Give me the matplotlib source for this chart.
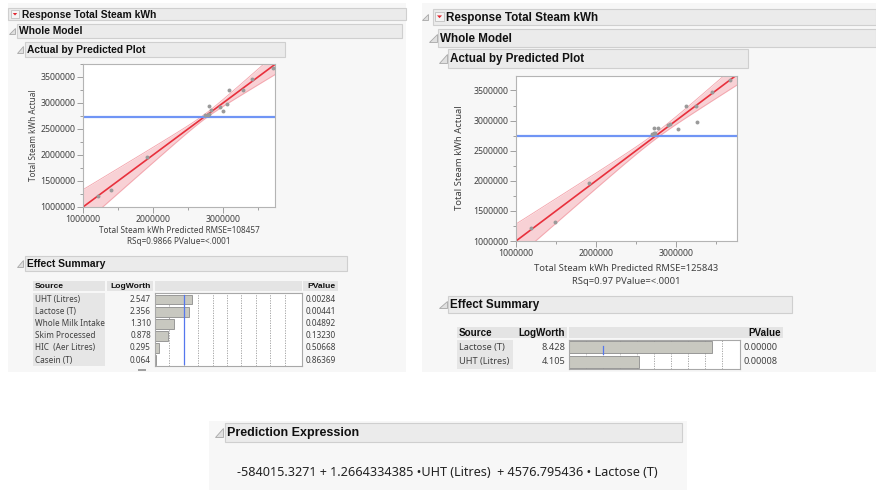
# JMP style report: actual by predicted plots, effect summaries, prediction expression
import numpy as np
import matplotlib.pyplot as plt
from matplotlib.patches import Rectangle, Polygon
from matplotlib.ticker import MultipleLocator, FuncFormatter

plt.rcParams['font.family'] = ['Noto Sans', 'DejaVu Sans']
BOLD = dict(family=['Liberation Sans', 'DejaVu Sans'], fontweight='bold', color='#111111')

W, H = 876, 490

# ---- data: full model (left) ----
left_pred = [1.22e6, 1.40e6, 1.92e6, 2.74e6, 2.78e6, 2.80e6, 2.80e6, 2.83e6, 2.96e6,
             3.00e6, 3.05e6, 3.08e6, 3.28e6, 3.42e6, 3.72e6]
left_actual = [1.21e6, 1.32e6, 1.97e6, 2.77e6, 2.77e6, 2.78e6, 2.94e6, 2.87e6, 2.92e6,
               2.85e6, 2.98e6, 3.25e6, 3.25e6, 3.47e6, 3.67e6]
left_sources = ['UHT (Litres)', 'Lactose (T)', 'Whole Milk Intake', 'Skim Processed',
                'HIC  (Aer Litres)', 'Casein (T)']
left_logworth = [2.547, 2.356, 1.310, 0.878, 0.295, 0.064]
left_pvalue = ['0.00284', '0.00441', '0.04892', '0.13230', '0.50668', '0.86369']
left_stats = ['Total Steam kWh Predicted RMSE=108457', 'RSq=0.9866 PValue=<.0001']

# ---- data: reduced model (right) ----
right_pred = [1.19e6, 1.49e6, 1.91e6, 2.70e6, 2.72e6, 2.74e6, 2.73e6, 2.78e6, 2.90e6,
              2.93e6, 3.03e6, 3.12e6, 3.25e6, 3.26e6, 3.45e6, 3.68e6]
right_actual = [1.21e6, 1.32e6, 1.97e6, 2.77e6, 2.79e6, 2.80e6, 2.87e6, 2.87e6, 2.92e6,
                2.95e6, 2.86e6, 3.24e6, 3.25e6, 2.98e6, 3.47e6, 3.67e6]
right_sources = ['Lactose (T)', 'UHT (Litres)']
right_logworth = [8.428, 4.105]
right_pvalue = ['0.00000', '0.00008']
right_stats = ['Total Steam kWh Predicted RMSE=125843', 'RSq=0.97 PValue=<.0001']

mean_actual = 2.74e6
# confidence band half widths (at the mean, and slope away from it)
left_band = (0.045e6, 0.19)
right_band = (0.05e6, 0.16)

expression = '-584015.3271 + 1.2664334385 \u2022UHT (Litres)  + 4576.795436 \u2022 Lactose (T)'

fig = plt.figure(figsize=(W / 100, H / 100), dpi=100)
bg = fig.add_axes([0, 0, 1, 1], zorder=0)
bg.set_xlim(0, W)
bg.set_ylim(H, 0)
bg.axis('off')


def px_axes(x0, y0, x1, y1):
    return fig.add_axes([x0 / W, 1 - y1 / H, (x1 - x0) / W, (y1 - y0) / H], zorder=2)


def rect(x0, y0, x1, y1, fc, ec='none', lw=0.8):
    bg.add_patch(Rectangle((x0, y0), x1 - x0, y1 - y0, facecolor=fc, edgecolor=ec, lw=lw))


def header(x0, y0, x1, y1, label, fs, icon_x=None):
    rect(x0, y0, x1, y1, '#ebebeb', '#cfcfcf')
    yc = (y0 + y1) / 2
    if icon_x is not None:
        s = (y1 - y0) * 0.22
        bg.add_patch(Polygon([(icon_x - s, yc + s), (icon_x + s, yc + s), (icon_x + s, yc - s)],
                             facecolor='#e0e0e0', edgecolor='#a8a8a8', lw=0.6))
    if label:
        bg.text(x0 + 2, yc + 0.5, label, fontsize=fs, va='center', ha='left', **BOLD)


def red_icon(x0, y0, s):
    rect(x0, y0, x0 + s, y0 + s, '#f4f4f4', '#c0c0c0', 0.6)
    c = x0 + s / 2
    bg.add_patch(Polygon([(c - s * 0.28, y0 + s * 0.38), (c + s * 0.28, y0 + s * 0.38),
                          (c, y0 + s * 0.68)], facecolor='#e0202a', edgecolor='none'))


def scatter_panel(box, scale, pred, actual, band, stats, ylab_x, lab_fs, xlab_y, ylab_cy):
    x0, y0, x1, y1 = box
    ax = px_axes(x0, y0, x1, y1)
    xmax = 1e6 + (x1 - x0) / scale[0] * 1e6
    ymax = 1e6 + (y1 - y0) / scale[1] * 1e6
    ax.set_xlim(1e6, xmax)
    ax.set_ylim(1e6, ymax)
    xs = np.linspace(1e6, xmax, 100)
    hw = np.sqrt(band[0] ** 2 + (band[1] * (xs - mean_actual)) ** 2)
    ax.fill_between(xs, xs - hw, xs + hw, color='#f7c6cb', alpha=0.8, lw=0)
    ax.plot(xs, xs - hw, color='#f3a3ab', lw=0.6)
    ax.plot(xs, xs + hw, color='#f3a3ab', lw=0.6)
    ax.plot(xs, xs, color='#e8303c', lw=1.2)
    ax.axhline(mean_actual, color='#7095f5', lw=1.6)
    ax.scatter(pred, actual, s=8, color='#9a9a9a', zorder=3, lw=0)
    ax.xaxis.set_major_locator(MultipleLocator(1e6))
    ax.xaxis.set_minor_locator(MultipleLocator(5e5))
    ax.yaxis.set_major_locator(MultipleLocator(5e5))
    ax.yaxis.set_minor_locator(MultipleLocator(2.5e5))
    fmt = FuncFormatter(lambda v, _: f'{v:.0f}')
    ax.xaxis.set_major_formatter(fmt)
    ax.yaxis.set_major_formatter(fmt)
    ax.tick_params(which='both', direction='out', colors='#a0a0a0', labelcolor='#404040',
                   labelsize=6.3, width=0.7, pad=1.5)
    ax.tick_params(which='major', length=4)
    ax.tick_params(which='minor', length=2.5)
    for sp in ax.spines.values():
        sp.set_color('#b4b4b4')
        sp.set_linewidth(0.8)
    bg.text(ylab_x, ylab_cy, 'Total Steam kWh Actual', rotation=90, fontsize=lab_fs,
            color='#404040', ha='center', va='center')
    cx = (x0 + x1) / 2
    bg.text(cx, xlab_y[0], stats[0], fontsize=lab_fs, color='#404040', ha='center', va='center')
    bg.text(cx, xlab_y[1], stats[1], fontsize=lab_fs, color='#404040', ha='center', va='center')


def effect_table(cols, head_y, row0, rh, sources, logworth, pvalue, fs, hfs, blue_rows, xmax):
    (s0, s1), (l0, l1), (c0, c1), (p0, p1) = cols
    n = len(sources)
    top = row0 - rh / 2
    bot = row0 + (n - 0.5) * rh
    for a, b in cols:
        rect(a, head_y[0], b, head_y[1], '#e4e4e4')
    rect(s0, top, s1, bot, '#e6e6e6')
    hy = (head_y[0] + head_y[1]) / 2 + 0.5
    bg.text(s0 + 2, hy, 'Source', fontsize=hfs, va='center', **BOLD)
    bg.text(l1 - 2, hy, 'LogWorth', fontsize=hfs, va='center', ha='right', **BOLD)
    bg.text(p1 - 2, hy, 'PValue', fontsize=hfs, va='center', ha='right', **BOLD)
    for i in range(n):
        y = row0 + i * rh
        bg.text(s0 + 2, y, sources[i], fontsize=fs, va='center', color='#404040')
        bg.text(l1 - 2, y, f'{logworth[i]:.3f}', fontsize=fs, va='center', ha='right',
                color='#404040')
        bg.text(p0 + 3, y, pvalue[i], fontsize=fs, va='center', color='#404040')
    ax = px_axes(c0, top, c1, bot)
    ax.set_xlim(0, xmax)
    ax.set_ylim(n - 0.5, -0.5)
    ax.set_facecolor('white')
    for g in range(1, 10):
        ax.axvline(g, color='#9a9a9a', lw=0.6, ls=(0, (1.5, 1.5)))
    ax.barh(range(n), logworth, height=0.82, color='#c8c8c0', edgecolor='#8c8c8c', lw=0.6,
            zorder=2)
    ax.plot([2, 2], blue_rows, color='#5577ee', lw=0.9, zorder=3)
    ax.set_xticks([])
    ax.set_yticks([])
    for sp in ax.spines.values():
        sp.set_color('#a8a8a8')
        sp.set_linewidth(0.8)


# ---- left report ----
rect(8, 3, 406, 372, '#f7f7f7')
header(8, 8, 406, 20, '', 7.3)
red_icon(11, 10, 8)
bg.text(22, 14.5, 'Response Total Steam kWh', fontsize=7.4, va='center', **BOLD)
header(17, 24, 402, 38, 'Whole Model', 7.4, icon_x=12)
header(25, 42, 285, 57, 'Actual by Predicted Plot', 7.4, icon_x=20)
scatter_panel((83, 64, 275, 207), (70.0, 52.0), left_pred, left_actual, left_band, left_stats,
              34, 5.9, (230, 241), 135)
header(25, 256, 347, 271, 'Effect Summary', 7.4, icon_x=20)
effect_table([(33, 105), (107, 153), (155, 302), (303, 338)], (281, 291), 299.5, 12.1,
             left_sources, left_logworth, left_pvalue, 5.9, 6.1, (-0.4, 5.3), 147 / 14.4)
rect(138, 369, 146, 371, '#a0a0a0')

# ---- right report ----
rect(422, 3, 876, 372, '#f7f7f7')
bg.add_patch(Polygon([(422, 20), (428, 20), (428, 14)], facecolor='#e0e0e0',
                     edgecolor='#a8a8a8', lw=0.6))
header(433, 9, 876, 25, '', 8.4)
red_icon(435, 12, 9)
bg.text(446, 17.5, 'Response Total Steam kWh', fontsize=8.4, va='center', **BOLD)
header(438, 29, 876, 47, 'Whole Model', 8.4, icon_x=433)
header(448, 49, 748, 68, 'Actual by Predicted Plot', 8.4, icon_x=443)
scatter_panel((516, 76, 737, 241), (80.0, 60.2), right_pred, right_actual, right_band,
              right_stats, 459, 6.8, (268, 281), 158)
header(448, 296, 792, 313, 'Effect Summary', 8.4, icon_x=443)
effect_table([(457, 513), (513, 567), (569, 740), (740, 783)], (327, 338), 347.3, 14.4,
             right_sources, right_logworth, right_pvalue, 6.6, 7.1, (-0.1, 0.45), 171 / 17.0)

# ---- prediction expression ----
rect(209, 421, 687, 490, '#f7f7f7')
header(225, 423, 682, 442, 'Prediction Expression', 9.0, icon_x=219)
bg.text(237, 472, expression, fontsize=9.1, va='center', color='#222222')

fig.savefig('out.png', dpi=100)
